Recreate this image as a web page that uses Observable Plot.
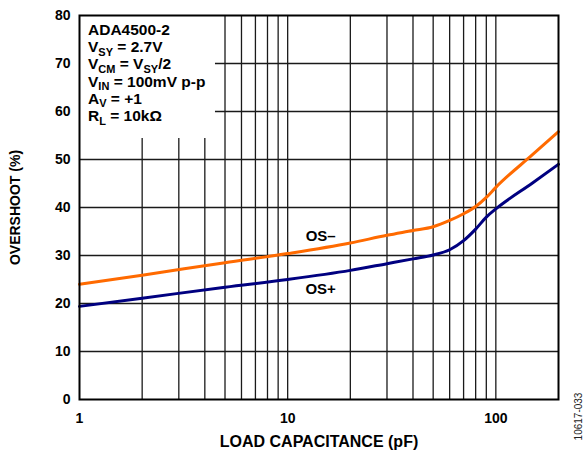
<!DOCTYPE html>
<html><head><meta charset="utf-8">
<script src="https://cdn.jsdelivr.net/npm/d3@7"></script>
<script src="https://cdn.jsdelivr.net/npm/@observablehq/plot@0.6"></script>
<style>
body{margin:0;background:#fff}
svg{font-family:"Liberation Sans",Arial,Helvetica,sans-serif;font-weight:bold}
</style>
</head><body><div id="chart"></div>
<script>
// Data
const capacitance = [1, 2, 5, 10, 20, 30, 40, 50, 60, 70, 80, 90, 100, 150, 200];
const osMinus = [24.0, 25.9, 28.5, 30.4, 32.6, 34.2, 35.2, 36.0, 37.3, 38.7, 40.2, 42.1, 44.2, 51.0, 55.8];
const osPlus  = [19.4, 21.1, 23.4, 25.0, 26.9, 28.3, 29.3, 30.1, 31.2, 33.1, 35.5, 38.0, 39.7, 45.1, 49.0];

const xTickLabels = [1, 10, 100];
const yTickLabels = [0, 10, 20, 30, 40, 50, 60, 70, 80];
const gridX = [2, 3, 4, 5, 6, 7, 8, 9, 10, 20, 30, 40, 50, 60, 70, 80, 90, 100];
const gridY = [10, 20, 30, 40, 50, 60, 70];

const seriesNames = ["OS–", "OS+"];
const seriesColors = ["#ff6a00", "#000080"];
const labelX = [14.4, 14.4];
const labelY = [34.1, 22.9];

const boxLines = [
  [["ADA4500-2"]],
  [["V"], ["SY", "sub"], [" = 2.7V"]],
  [["V"], ["CM", "sub"], [" = V"], ["SY", "sub"], ["/2"]],
  [["V"], ["IN", "sub"], [" = 100mV p-p"]],
  [["A"], ["V", "sub"], [" = +1"]],
  [["R"], ["L", "sub"], [" = 10kΩ"]]
];

const xTitle = "LOAD CAPACITANCE (pF)";
const yTitle = "OVERSHOOT (%)";
const figureId = "10617-033";

const rows = [];
capacitance.forEach((c, i) => {
  rows.push({c, v: osMinus[i], s: seriesNames[0]});
  rows.push({c, v: osPlus[i], s: seriesNames[1]});
});
const labels = seriesNames.map((s, i) => ({s, x: labelX[i], y: labelY[i]}));

const chart = Plot.plot({
  width: 588,
  height: 452,
  marginLeft: 79,
  marginRight: 30,
  marginTop: 15,
  marginBottom: 53,
  style: {fontFamily: '"Liberation Sans", Arial, sans-serif', fontWeight: "bold", background: "#fff"},
  x: {type: "log", domain: [1, 200]},
  y: {domain: [0, 80]},
  color: {domain: seriesNames, range: seriesColors},
  marks: [
    Plot.ruleX(gridX, {x: d => d, y1: 0, y2: d => d < 5 ? 54.4 : 80, stroke: "#1a1a1a", strokeWidth: 1.3}),
    Plot.ruleY(gridY, {y: d => d, x1: d => d >= 60 ? 4.5 : 1, x2: 200, stroke: "#1a1a1a", strokeWidth: 1.3}),
    Plot.line(rows, {x: "c", y: "v", stroke: "s", z: "s", strokeWidth: 3, curve: "monotone-x"}),
    Plot.frame({stroke: "#000", strokeWidth: 2}),
    Plot.axisX(xTickLabels, {tickSize: 0, tickPadding: 14, fontSize: 14, fill: "#000", tickFormat: d => String(d), label: null}),
    Plot.axisY(yTickLabels, {tickSize: 0, tickPadding: 9, fontSize: 14, fill: "#000", label: null}),
    Plot.text(labels, {x: "x", y: "y", text: "s", fontSize: 15, fill: "#000", textAnchor: "middle", lineAnchor: "middle"}),
    Plot.text([xTitle], {frameAnchor: "bottom", dy: 42, fontSize: 16, fill: "#000", textAnchor: "middle", lineAnchor: "middle"}),
    Plot.text([yTitle], {frameAnchor: "left", dx: -64, rotate: -90, fontSize: 14, fill: "#000", textAnchor: "middle", lineAnchor: "middle"}),
    Plot.text([figureId], {frameAnchor: "bottom-right", dx: 20, dy: 17, rotate: -90, fontSize: 10, fontWeight: "normal", fill: "#222", textAnchor: "middle", lineAnchor: "middle"})
  ]
});

// Condition box text with subscripts
const svg = d3.select(chart);
const box = svg.append("g")
  .attr("font-size", 15.5).attr("font-weight", "bold").attr("fill", "#000")
  .attr("text-anchor", "start");
const baselines = [35, 52.2, 69.4, 86.6, 103.8, 121];
boxLines.forEach((parts, i) => {
  const t = box.append("text").attr("x", 88).attr("y", baselines[i])
    .attr("text-anchor", "start").style("white-space", "pre");
  let shifted = false;
  parts.forEach(([str, kind]) => {
    const ts = t.append("tspan").text(str);
    if (kind === "sub" && !shifted) { ts.attr("font-size", 11).attr("dy", 3.5); shifted = true; }
    else if (kind !== "sub" && shifted) { ts.attr("dy", -3.5); shifted = false; }
    else if (kind === "sub") ts.attr("font-size", 11);
  });
});

document.getElementById("chart").appendChild(chart);
</script>
</body></html>
